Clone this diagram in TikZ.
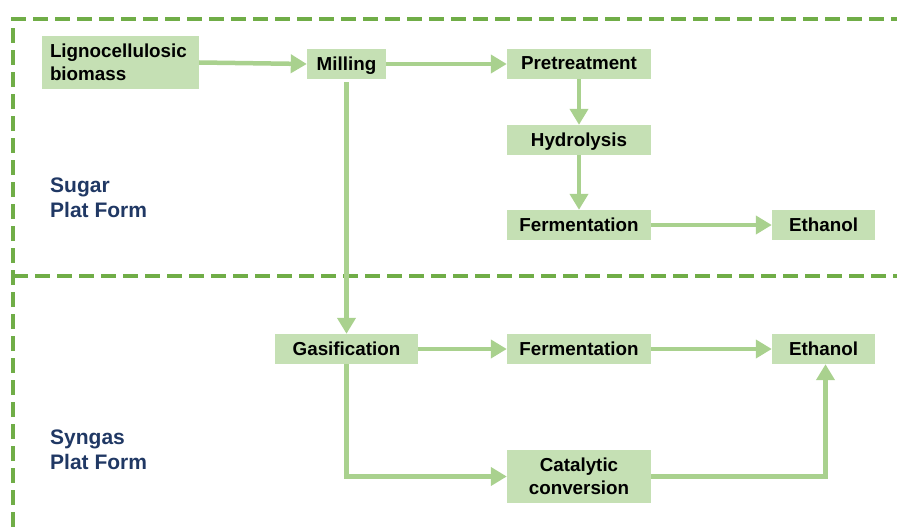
\documentclass[tikz,border=0pt]{standalone}
\usepackage{fontspec}
\setmainfont{Liberation Sans}
\usetikzlibrary{arrows.meta}
\definecolor{boxfill}{HTML}{C5E0B4}
\definecolor{arrowcol}{HTML}{A9D18E}
\definecolor{dashcol}{HTML}{70AD47}
\definecolor{labcol}{HTML}{203864}
\tikzset{
  stepbox/.style={fill=boxfill, draw=none, inner sep=0pt, align=center,
    font=\fontsize{18.8}{23}\selectfont\bfseries, text=black},
  onebox/.style={stepbox, text depth=1.5pt, minimum height=30pt},
  flow/.style={draw=arrowcol, line width=4.5pt, -{Triangle[length=16pt,width=18pt]}},
  border/.style={draw=dashcol, line width=4pt, dash pattern=on 15pt off 7pt},
  platlabel/.style={anchor=north west, align=left, inner sep=0pt,
    font=\fontsize{21}{25}\selectfont\bfseries, text=labcol}
}
\begin{document}
\begin{tikzpicture}[x=1pt,y=-1pt]
\useasboundingbox (0,0) rectangle (897,527);
% dashed borders
\draw[border] (13,527) -- (13,19) -- (897,19);
\draw[border] (13,276) -- (897,276);
% labels
\node[platlabel] (sugar) at (50,178) {Sugar\\Plat Form};
\node[platlabel] (syngas) at (50,430) {Syngas\\Plat Form};
% boxes
\node[stepbox, align=left, text width=141pt, inner xsep=8pt, minimum height=53pt] (ligno) at (120.5,62.5) {Lignocellulosic\\biomass};
\node[onebox, minimum width=79pt] (mill) at (346.5,64) {Milling};
\node[onebox, minimum width=144pt] (pre) at (579,64) {Pretreatment};
\node[onebox, minimum width=144pt] (hyd) at (579,140) {Hydrolysis};
\node[onebox, minimum width=144pt] (ferm1) at (579,225) {Fermentation};
\node[onebox, minimum width=103pt] (eth1) at (823.5,225) {Ethanol};
\node[onebox, minimum width=143pt] (gas) at (346.5,349) {Gasification};
\node[onebox, minimum width=144pt] (ferm2) at (579,349) {Fermentation};
\node[onebox, minimum width=103pt] (eth2) at (823.5,349) {Ethanol};
\node[stepbox, minimum width=144pt, minimum height=53pt] (cat) at (579,476.5) {Catalytic\\conversion};
% connectors
\draw[flow] (ligno.east) -- (mill.west);
\draw[flow] (mill.east) -- (pre.west);
\draw[flow] (pre.south) -- (hyd.north);
\draw[flow] (hyd.south) -- (ferm1.north);
\draw[flow] (ferm1.east) -- (eth1.west);
\draw[flow, shorten <=3pt] (mill.south) -- (gas.north);
\draw[flow] (gas.east) -- (ferm2.west);
\draw[flow] (ferm2.east) -- (eth2.west);
\draw[flow] (gas.south) |- (cat.west);
\draw[flow] (cat.east) -| ([xshift=2pt]eth2.south);
\end{tikzpicture}
\end{document}
